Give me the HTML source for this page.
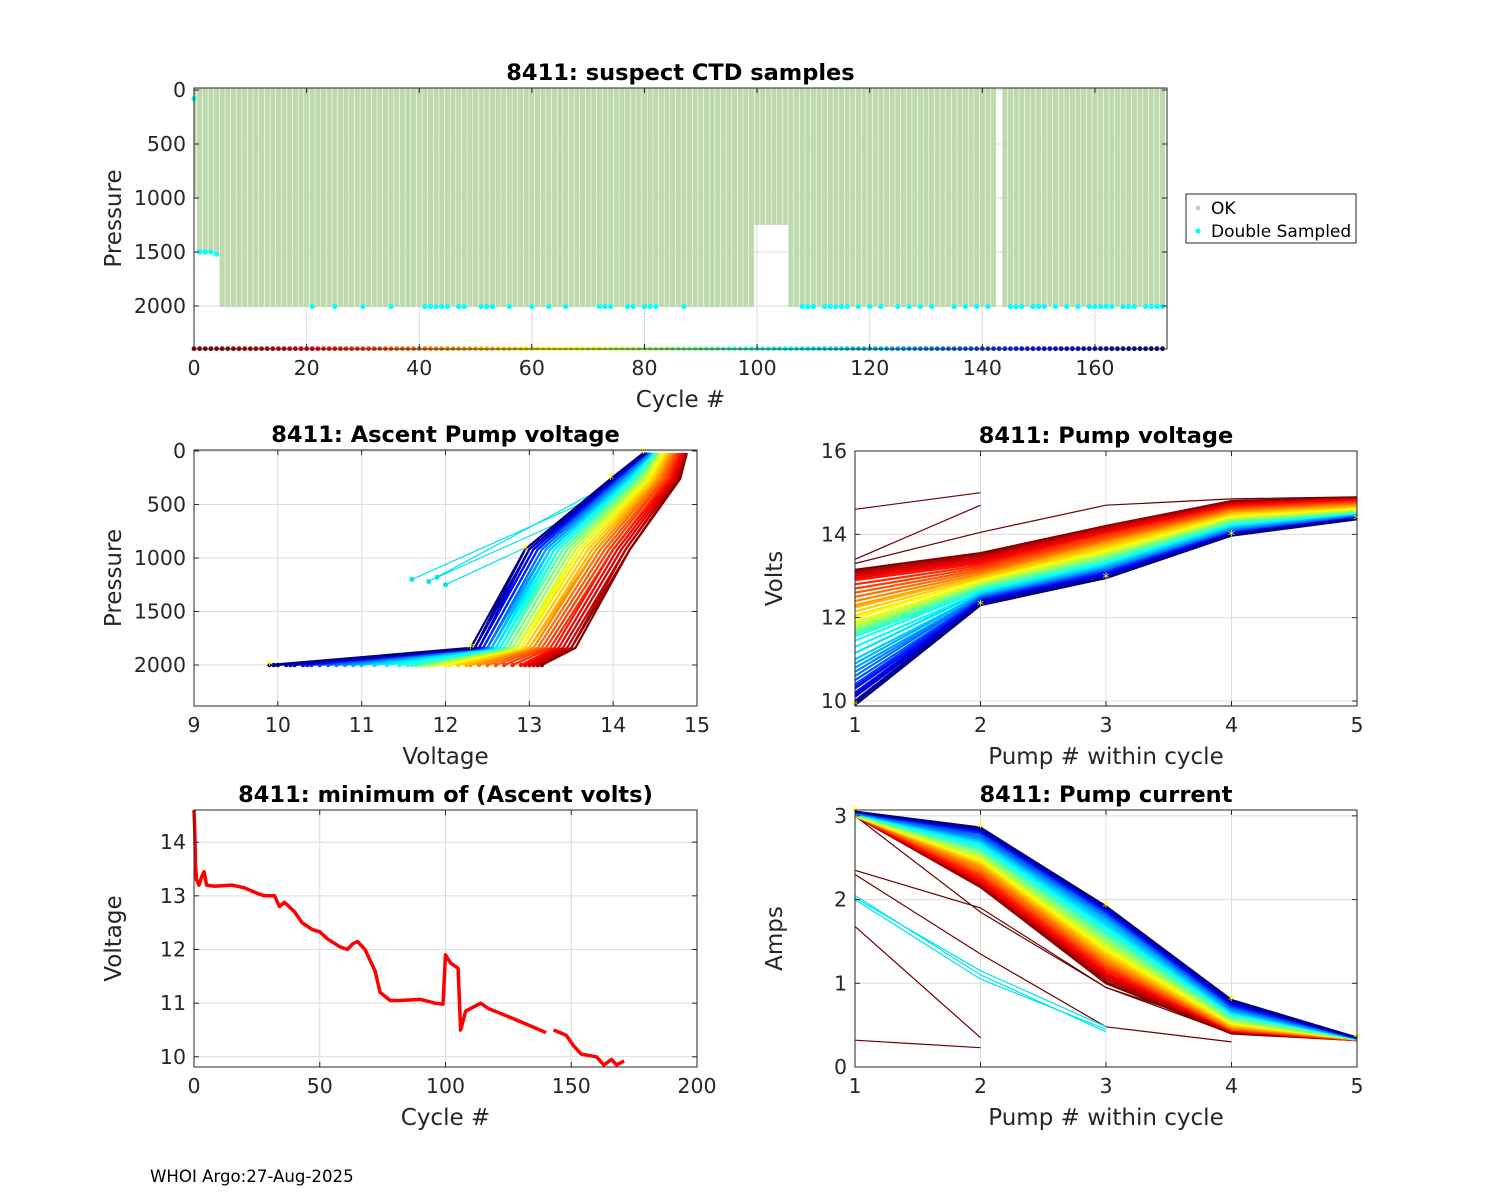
<!DOCTYPE html>
<html><head><meta charset="utf-8"><style>
body{margin:0;background:#fff}
svg{display:block;font-family:"DejaVu Sans","Liberation Sans",sans-serif}
.t{font-size:20.5px;fill:#262626}
.ttl{font-size:22.5px;font-weight:bold;fill:#000}
.lab{font-size:23px;fill:#262626}
</style></head><body>
<svg id="fig" width="1500" height="1200" viewBox="0 0 1500 1200" xmlns="http://www.w3.org/2000/svg">
<rect width="1500" height="1200" fill="#fff"/>
<g id="g"></g>
<text x="150" y="1182" font-size="16.6" fill="#000">WHOI Argo:27-Aug-2025</text>
</svg>
<script>
// ---- data ----
const nCycles = 172;
const depthRuns = [[0,0,1000],[1,4,1510],[5,99,2010],[100,105,1250],[106,142,2010],[144,172,2010]];
const dblCycles = [21,25,30,35,41,42,43,44,45,47,48,51,52,53,56,60,63,66,72,73,74,77,78,80,81,82,87,108,109,110,112,113,114,115,116,118,120,122,125,127,129,131,135,137,139,141,145,146,147,149,150,151,153,155,157,159,160,161,162,163,165,166,167,169,170,171,172];
const dblShallow = [[0,80],[1,1500],[2,1500],[3,1500],[4,1520]];
const minCycles = [0,0.3,0.6,1,2,3,4,5,8,15,20,25,28,32,33,34,36,40,43,47,50,53,58,61,63,65,68,72,74,78,82,90,96,99,100,102,105,106,108,112,114,117,125,130,140,143,148,151,154,160,163,166,168,171];
const minVolts = [14.6,14.2,13.6,13.3,13.2,13.35,13.45,13.2,13.18,13.2,13.15,13.05,13.0,13.0,12.9,12.8,12.88,12.7,12.5,12.37,12.33,12.2,12.05,12.0,12.1,12.15,12.0,11.6,11.2,11.05,11.05,11.07,11.0,10.98,11.9,11.75,11.65,10.5,10.85,10.95,11.0,10.9,10.75,10.65,10.45,10.5,10.4,10.2,10.05,10.0,9.85,9.95,9.85,9.92];
const minGapAfter = 140;
const pumpCycles = Array.from({length:44},(_,k)=>k*4);
const v1 = [13.15,13.1,13.1,13.05,13.0,12.95,12.9,12.8,12.7,12.6,12.5,12.4,12.3,12.25,12.15,12.05,12.0,11.9,11.85,11.8,11.75,11.7,11.7,11.65,11.6,11.55,11.45,11.3,11.15,11.0,10.9,10.8,10.7,10.6,10.5,10.4,10.35,10.3,10.2,10.15,10.1,10.0,9.95,9.9];
const v2 = [13.55,13.5,13.5,13.45,13.4,13.35,13.3,13.25,13.2,13.15,13.1,13.05,13.0,13.0,12.95,12.9,12.9,12.85,12.85,12.8,12.8,12.75,12.75,12.7,12.7,12.65,12.65,12.6,12.6,12.55,12.55,12.5,12.5,12.5,12.45,12.45,12.45,12.4,12.4,12.4,12.35,12.35,12.35,12.3];
const v3 = [14.2,14.2,14.15,14.15,14.1,14.05,14.0,14.0,13.95,13.9,13.85,13.8,13.8,13.75,13.7,13.65,13.6,13.6,13.55,13.5,13.5,13.45,13.45,13.4,13.35,13.35,13.3,13.3,13.25,13.25,13.2,13.2,13.15,13.15,13.1,13.1,13.1,13.05,13.05,13.0,13.0,13.0,12.95,12.95];
const v4 = [14.8,14.78,14.76,14.74,14.72,14.7,14.68,14.65,14.62,14.6,14.57,14.55,14.52,14.5,14.48,14.45,14.42,14.4,14.38,14.36,14.34,14.32,14.3,14.28,14.26,14.24,14.22,14.2,14.18,14.16,14.14,14.12,14.1,14.08,14.06,14.05,14.04,14.03,14.02,14.01,14.0,14.0,13.98,13.97];
const v5 = [14.88,14.87,14.86,14.85,14.84,14.82,14.8,14.78,14.76,14.74,14.72,14.7,14.68,14.66,14.64,14.62,14.6,14.58,14.56,14.55,14.54,14.53,14.52,14.5,14.5,14.49,14.48,14.47,14.46,14.45,14.45,14.44,14.43,14.42,14.41,14.4,14.4,14.4,14.39,14.38,14.38,14.37,14.37,14.36];
const c1 = [3.0,3.0,3.0,3.0,3.0,3.0,3.0,3.0,3.0,3.0,3.0,3.0,3.0,3.0,3.0,3.0,3.0,3.0,3.0,3.0,3.02,3.02,3.02,3.02,3.02,3.02,3.02,3.03,3.03,3.03,3.03,3.03,3.04,3.04,3.04,3.04,3.05,3.05,3.05,3.05,3.05,3.05,3.05,3.05];
const c2 = [2.15,2.15,2.18,2.2,2.2,2.22,2.25,2.28,2.3,2.32,2.35,2.38,2.4,2.42,2.45,2.45,2.48,2.5,2.5,2.52,2.55,2.55,2.58,2.6,2.6,2.62,2.65,2.65,2.68,2.7,2.72,2.72,2.75,2.75,2.78,2.8,2.8,2.82,2.82,2.83,2.84,2.85,2.85,2.86];
const c3 = [1.0,1.02,1.05,1.08,1.1,1.12,1.15,1.18,1.2,1.22,1.25,1.28,1.3,1.32,1.35,1.38,1.4,1.42,1.45,1.48,1.5,1.52,1.55,1.58,1.6,1.62,1.65,1.68,1.7,1.72,1.75,1.78,1.8,1.82,1.84,1.85,1.86,1.87,1.88,1.89,1.9,1.9,1.91,1.92];
const c4 = [0.4,0.41,0.42,0.42,0.43,0.43,0.44,0.44,0.45,0.45,0.46,0.47,0.48,0.49,0.5,0.51,0.52,0.53,0.54,0.55,0.56,0.57,0.58,0.6,0.61,0.62,0.63,0.64,0.65,0.66,0.67,0.68,0.7,0.71,0.72,0.73,0.74,0.75,0.76,0.77,0.78,0.79,0.8,0.8];
const c5 = [0.32,0.32,0.32,0.32,0.32,0.32,0.32,0.32,0.33,0.33,0.33,0.33,0.33,0.33,0.33,0.33,0.33,0.33,0.33,0.33,0.33,0.33,0.33,0.33,0.34,0.34,0.34,0.34,0.34,0.34,0.34,0.34,0.34,0.34,0.35,0.35,0.35,0.35,0.35,0.35,0.35,0.35,0.35,0.35];
const ascentP = [2000,1840,920,260,20];
const voltOutliers = [[14.6,15.0],[13.4,14.7],[13.3,14.05,14.7,14.85,14.9]];
const curOutliers = [[2.35,1.9,0.95,0.45],[2.3,1.35,0.48,0.3],[1.68,0.35],[0.32,0.23],[3.0,1.85,0.95,0.4]];
const cyanCur = [[2.05,1.1,0.42],[2.0,1.05,0.45],[2.02,1.15,0.48]];
const cyanAscV = [[11.6,13.6],[11.8,13.7],[12.0,13.9],[11.9,13.5]];
const cyanAscP = [[1200,500],[1220,420],[1250,560],[1180,620]];
const legendLabels = ["OK","Double Sampled"];

// ---- helpers ----
const NS="http://www.w3.org/2000/svg";
const G=document.getElementById('g');
function el(tag,attrs,parent){const e=document.createElementNS(NS,tag);for(const k in attrs)e.setAttribute(k,attrs[k]);(parent||G).appendChild(e);return e;}
function jet(t){const c=v=>Math.round(255*Math.max(0,Math.min(1,v)));return `rgb(${c(1.5-Math.abs(4*t-3))},${c(1.5-Math.abs(4*t-2))},${c(1.5-Math.abs(4*t-1))})`;}
function cyc(c){return jet(1-c/nCycles);}
function lin(d0,d1,r0,r1){return v=>r0+(v-d0)*(r1-r0)/(d1-d0);}
function axes(name,x0,y0,x1,y1,xs,ys,xt,yt,xlab,ylab,title){
  const g=el('g',{});  
  xt.forEach(v=>{const x=xs(v);el('line',{x1:x,x2:x,y1:y0,y2:y1,stroke:'#dcdcdc','stroke-width':1},g);
    const t=el('text',{x:x,y:y1+26,'text-anchor':'middle',class:'t'},g);t.textContent=v;
    });
  yt.forEach(v=>{const y=ys(v);el('line',{x1:x0,x2:x1,y1:y,y2:y,stroke:'#dcdcdc','stroke-width':1},g);
    const t=el('text',{x:x0-8,y:y+7,'text-anchor':'end',class:'t'},g);t.textContent=v;
    });
  const tt=el('text',{x:(x0+x1)/2,y:y0-8,'text-anchor':'middle',class:'ttl'},g);tt.textContent=title;
  
  const xl=el('text',{x:(x0+x1)/2,y:y1+58,'text-anchor':'middle',class:'lab'},g);xl.textContent=xlab;
  
  const yl=el('text',{x:0,y:0,'text-anchor':'middle',class:'lab',transform:`translate(${x0-73},${(y0+y1)/2}) rotate(-90)`},g);yl.textContent=ylab;
  
  const plot=el('g',{});
  return {g,plot,frame:()=>{const f=el('g',{});
    el('rect',{x:x0,y:y0,width:x1-x0,height:y1-y0,fill:'none',stroke:'#262626','stroke-width':1},f);
    xt.forEach(v=>{const x=xs(v);el('line',{x1:x,x2:x,y1:y1,y2:y1-5,stroke:'#262626'},f);el('line',{x1:x,x2:x,y1:y0,y2:y0+5,stroke:'#262626'},f);});
    yt.forEach(v=>{const y=ys(v);el('line',{x1:x0,x2:x0+5,y1:y,y2:y,stroke:'#262626'},f);el('line',{x1:x1,x2:x1-5,y1:y,y2:y,stroke:'#262626'},f);});}};
}
function pl(pts,attrs,parent){return el('polyline',Object.assign({points:pts.map(p=>p[0].toFixed(1)+','+p[1].toFixed(1)).join(' '),fill:'none'},attrs),parent);}

// ---- top: suspect CTD samples ----
(function(){
  const xs=lin(0,172.8,194,1167), ys=lin(-18.5,2398,88,349);
  const a=axes('ctd-samples-chart',194,88,1167,349,xs,ys,[0,20,40,60,80,100,120,140,160],[0,500,1000,1500,2000],'Cycle #','Pressure','8411: suspect CTD samples');
  const w=xs(1)-xs(0);
  depthRuns.forEach(r=>{for(let c=r[0];c<=r[1];c++){
    const left=Math.max(194.5,xs(c)-w/2+0.3);
    const b=el('rect',{x:left,y:ys(0)-2,width:xs(c)+w/2-0.3-left,height:ys(r[2])-ys(0)+2,fill:'#bedaae'},a.plot);
    }});
  dblCycles.forEach(c=>{const d=el('circle',{cx:xs(c),cy:ys(2005),r:2.6,fill:'#00ffff'},a.plot);
    });
  dblShallow.forEach(p=>{const d=el('circle',{cx:xs(p[0]),cy:ys(p[1]),r:2.6,fill:'#00ffff'},a.plot);
    });
  for(let c=0;c<=nCycles;c++){const d=el('circle',{cx:xs(c),cy:ys(2395),r:2.4,fill:cyc(c)},a.plot);
    }
  a.frame();
  const lg=el('g',{});
  el('rect',{x:1186,y:194,width:170,height:49,fill:'#fff',stroke:'#262626'},lg);
  ['#bedaae','#00ffff'].forEach((col,i)=>{
    const e=el('g',{},lg);
    el('circle',{cx:1198,cy:208+i*23,r:2.6,fill:col},e);
    const t=el('text',{x:1211,y:214+i*23,'font-size':17,fill:'#000'},e);t.textContent=legendLabels[i];});
})();

// ---- ascent pump voltage ----
(function(){
  const xs=lin(9,15,194,697), ys=lin(-9,2383,450,706);
  const a=axes('ascent-voltage-chart',194,450,697,706,xs,ys,[9,10,11,12,13,14,15],[0,500,1000,1500,2000],'Voltage','Pressure','8411: Ascent Pump voltage');
  cyanAscV.forEach((vv,i)=>{const l=pl(vv.map((v,j)=>[xs(v),ys(cyanAscP[i][j])]),{stroke:'#00e5ee','stroke-width':1.2},a.plot);
    
    el('circle',{cx:xs(vv[0]),cy:ys(cyanAscP[i][0]),r:2.5,fill:'#00e5ee'},a.plot);});
  pumpCycles.forEach((c,k)=>{const vs=[v1[k],v2[k],v3[k],v4[k],v5[k]];
    const l=pl(vs.map((v,j)=>[xs(v),ys(ascentP[j])]),{stroke:cyc(c),'stroke-width':2.2},a.plot);
    
    el('circle',{cx:xs(vs[0]),cy:ys(ascentP[0]),r:2.2,fill:cyc(c)},a.plot);});
  const last=pumpCycles.length-1;
  [v1,v2,v3,v4,v5].forEach((arr,j)=>{const t=el('text',{x:xs(arr[last]),y:ys(ascentP[j])+5,'text-anchor':'middle','font-size':14,fill:'#ffff00'},a.plot);t.textContent='*';
    });
  a.frame();
})();

// ---- pump voltage ----
(function(){
  const xs=lin(1,5,855,1357), ys=lin(9.88,16,706,451);
  const a=axes('pump-voltage-chart',855,451,1357,706,xs,ys,[1,2,3,4,5],[10,12,14,16],'Pump # within cycle','Volts','8411: Pump voltage');
  pumpCycles.forEach((c,k)=>{const vs=[v1[k],v2[k],v3[k],v4[k],v5[k]];
    const l=pl(vs.map((v,j)=>[xs(j+1),ys(v)]),{stroke:cyc(c),'stroke-width':2.2},a.plot);
    });
  voltOutliers.forEach(o=>{const l=pl(o.map((v,j)=>[xs(j+1),ys(v)]),{stroke:'#6b0000','stroke-width':1.2},a.plot);
    });
  const last=pumpCycles.length-1;
  [v1,v2,v3,v4,v5].forEach((arr,j)=>{const t=el('text',{x:xs(j+1),y:ys(arr[last])+5,'text-anchor':'middle','font-size':14,fill:'#ffff00'},a.plot);t.textContent='*';
    });
  a.frame();
})();

// ---- minimum ascent volts ----
(function(){
  const xs=lin(0,200,194,697), ys=lin(9.81,14.6,1067,810);
  const a=axes('min-volts-chart',194,810,697,1067,xs,ys,[0,50,100,150,200],[10,11,12,13,14],'Cycle #','Voltage','8411: minimum of (Ascent volts)');
  let seg=[],segs=[];
  minCycles.forEach((c,i)=>{if(c>minGapAfter&&minCycles[i-1]<=minGapAfter){segs.push(seg);seg=[];}seg.push([xs(c),ys(minVolts[i])]);});
  segs.push(seg);
  segs.forEach(s=>{const l=pl(s,{stroke:'#ff0000','stroke-width':3.5,'stroke-linejoin':'round'},a.plot);
    });
  a.frame();
})();

// ---- pump current ----
(function(){
  const xs=lin(1,5,855,1357), ys=lin(0,3.07,1067,810);
  const a=axes('pump-current-chart',855,810,1357,1067,xs,ys,[1,2,3,4,5],[0,1,2,3],'Pump # within cycle','Amps','8411: Pump current');
  curOutliers.forEach(o=>{const l=pl(o.map((v,j)=>[xs(j+1),ys(v)]),{stroke:'#6b0000','stroke-width':1.2},a.plot);
    });
  cyanCur.forEach(o=>{const l=pl(o.map((v,j)=>[xs(j+1),ys(v)]),{stroke:'#00e5ee','stroke-width':1.2},a.plot);
    });
  pumpCycles.forEach((c,k)=>{const vs=[c1[k],c2[k],c3[k],c4[k],c5[k]];
    const l=pl(vs.map((v,j)=>[xs(j+1),ys(v)]),{stroke:cyc(c),'stroke-width':2.2},a.plot);
    });
  const last=pumpCycles.length-1;
  [c1,c2,c3,c4,c5].forEach((arr,j)=>{const t=el('text',{x:xs(j+1),y:ys(arr[last])+5,'text-anchor':'middle','font-size':14,fill:'#ffff00'},a.plot);t.textContent='*';
    });
  a.frame();
})();
</script>
</body></html>
